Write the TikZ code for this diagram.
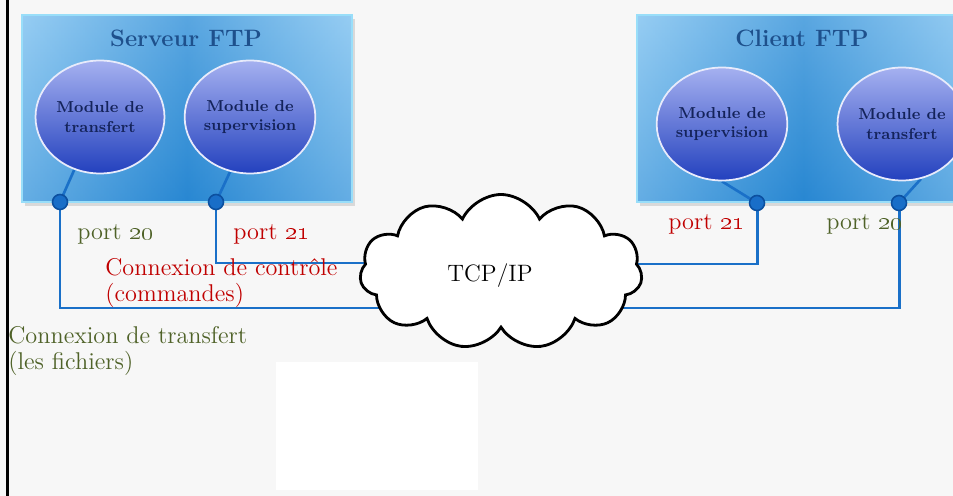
\documentclass[tikz,border=0pt]{standalone}
\usetikzlibrary{shapes.geometric,shapes.symbols,calc}
\definecolor{bgc}{RGB}{247,247,247}
\definecolor{linec}{RGB}{26,112,200}
\definecolor{portc}{RGB}{25,110,200}
\definecolor{portd}{RGB}{12,80,160}
\definecolor{titlec}{RGB}{30,80,140}
\definecolor{modc}{RGB}{20,35,90}
\definecolor{redc}{RGB}{192,0,0}
\definecolor{olivec}{RGB}{79,98,40}
\definecolor{boxlight}{RGB}{150,205,243}
\definecolor{boxdark}{RGB}{40,135,210}
\definecolor{elltop}{RGB}{165,176,240}
\definecolor{ellbot}{RGB}{35,65,190}
\pgfdeclarelayer{back}
\pgfdeclarelayer{lines}
\pgfsetlayers{back,lines,main}
\tikzset{
  module/.style={ellipse, top color=elltop, bottom color=ellbot, draw=white!75!elltop,
    line width=1pt, minimum width=2.58cm, minimum height=2.26cm, align=center,
    text=modc, font=\fontsize{9}{11}\selectfont\bfseries, inner sep=0pt},
  boxtitle/.style={text=titlec, font=\fontsize{13.5}{16}\selectfont\bfseries},
  port/.style={circle, fill=portc, draw=portd, line width=0.9pt, minimum size=0.3cm, inner sep=0pt},
  link/.style={linec, line width=1.5pt},
  conn/.style={linec, line width=1.7pt},
  lbl/.style={font=\fontsize{13.8}{14.8}\selectfont, anchor=west, inner sep=0pt, align=left},
}
\begin{document}
\begin{tikzpicture}[x=0.02cm,y=-0.02cm]
\useasboundingbox (0,0) rectangle (953,496);
\begin{pgfonlayer}{back}
\clip (0,0) rectangle (953,496);
\fill[bgc] (0,0) rectangle (953,496);
\fill[white] (276,362) rectangle (478,490);
% server box
\fill[gray!30] (25,19) rectangle (355,206);
\shade[left color=boxlight, right color=boxlight, middle color=boxdark] (22,15) rectangle (352,202);
\shade[top color=boxlight, bottom color=boxdark, opacity=0.45] (22,15) rectangle (352,202);
\draw[white!60!cyan, line width=0.8pt] (22,15) rectangle (352,202);
% client box
\fill[gray!30] (640,19) rectangle (975,206);
\shade[left color=boxlight, right color=boxlight, middle color=boxdark] (637,15) rectangle (970,202);
\shade[top color=boxlight, bottom color=boxdark, opacity=0.45] (637,15) rectangle (970,202);
\draw[white!60!cyan, line width=0.8pt] (637,15) rectangle (970,202);
\draw[black, line width=1.6pt] (7.5,0) -- (7.5,496);
\end{pgfonlayer}

\node[boxtitle] (srvt) at (186,38) {Serveur FTP};
\node[boxtitle] (clit) at (802,38) {Client FTP};

\node[module] (st) at (100,117) {Module de\\transfert};
\node[module] (ss) at (250,117) {Module de\\supervision};
\node[module] (cs) at (722,124) {Module de\\supervision};
\node[module] (ct) at (902,124) {Module de\\transfert};

\node[port] (sp20) at (60,202) {};
\node[port] (sp21) at (216,202) {};
\node[port] (cp21) at (757,203) {};
\node[port] (cp20) at (899,203) {};

\begin{pgfonlayer}{lines}
\draw[link] (sp20.center) -- (st.-116);
\draw[link] (sp21.center) -- (ss.-110);
\draw[link] (cp21.center) -- (cs.-90);
\draw[link] (cp20.center) -- (ct.-71);
\end{pgfonlayer}

\node[cloud, draw, fill=white, line width=1.6pt, cloud puffs=11, cloud puff arc=130, aspect=1.85,
  minimum width=5.65cm, minimum height=3.1cm] (net) at (501,272) {};
\node[font=\fontsize{13.5}{15}\selectfont] (tcp) at (490,276) {TCP/IP};

\begin{pgfonlayer}{lines}
\draw[conn] (sp21) |- ($(net.center)+(0,-9)$);
\draw[conn] (sp20) |- ($(net.center)+(0,36)$);
\draw[conn] (cp21) |- ($(net.center)+(0,-8)$);
\draw[conn] (cp20) |- ($(net.center)+(0,36)$);
\end{pgfonlayer}

\node[lbl, text=olivec] (l1) at (77,234) {port \oldstylenums{20}};
\node[lbl, text=redc] (l2) at (233,234) {port \oldstylenums{21}};
\node[lbl, text=redc] (l3) at (105,283) {Connexion de contrôle\\(commandes)};
\node[lbl, text=olivec] (l4) at (8,351) {Connexion de transfert\\(les fichiers)};
\node[lbl, text=redc] (l5) at (668,224) {port \oldstylenums{21}};
\node[lbl, text=olivec] (l6) at (826,224) {port \oldstylenums{20}};
\end{tikzpicture}
\end{document}
